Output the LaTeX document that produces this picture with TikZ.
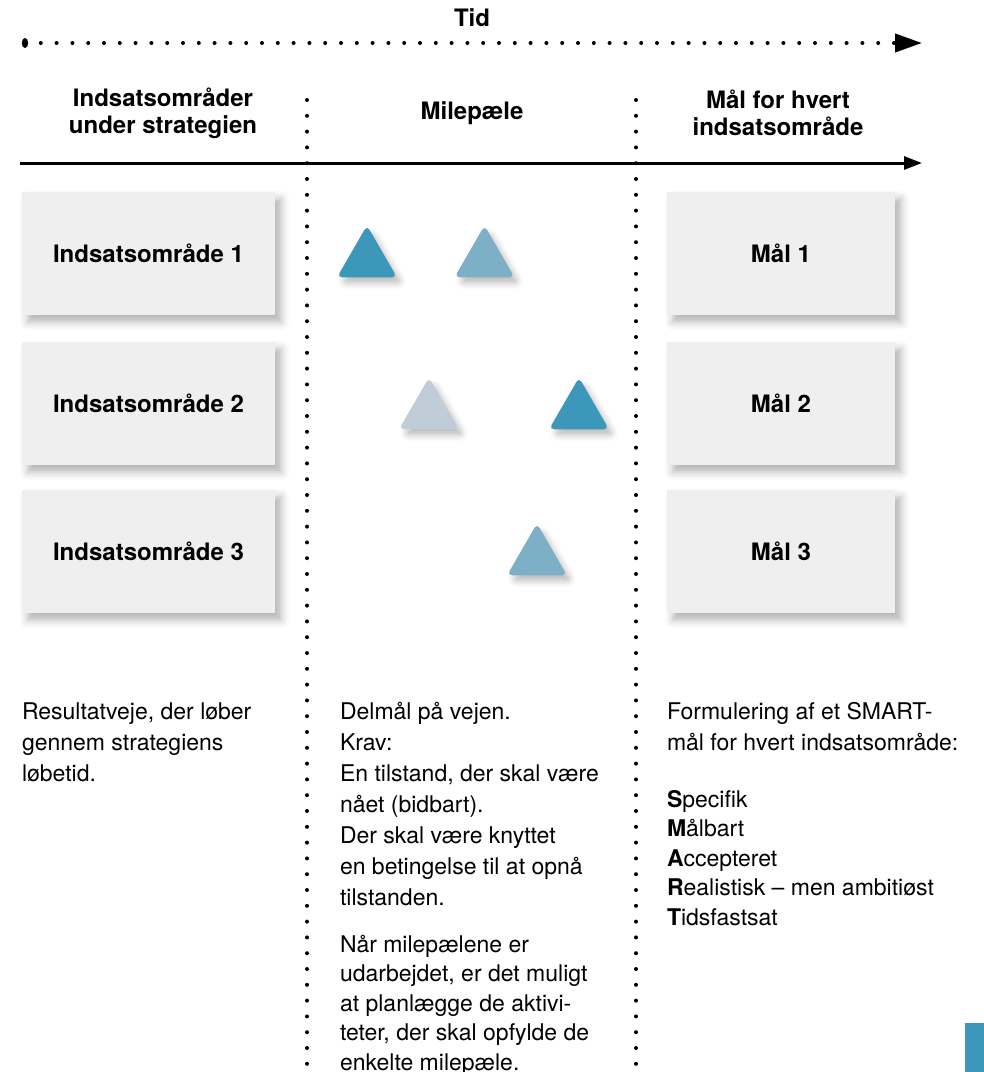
\documentclass[tikz,border=0pt]{standalone}
\usepackage{fontspec}
\setmainfont{TeX Gyre Heros}
\usetikzlibrary{arrows.meta,shapes.geometric,shadows.blur}
\definecolor{boxgray}{HTML}{EFEFEF}
\definecolor{msdark}{HTML}{3D97BA}
\definecolor{msmid}{HTML}{7DB0C7}
\definecolor{mslight}{HTML}{C1CCD9}
\begin{document}
\begin{tikzpicture}[x=0.5pt,y=-0.5pt,inner sep=0pt,outer sep=0pt,
areabox/.style={fill=boxgray,minimum width=126.5pt,minimum height=61.5pt,font=\bfseries\fontsize{12}{14}\selectfont,
  blur shadow={shadow xshift=3pt,shadow yshift=-3.5pt,shadow blur radius=4pt,shadow opacity=30}},
goalbox/.style={areabox,minimum width=114pt},
milestone/.style={regular polygon,regular polygon sides=3,minimum size=34.6pt,rounded corners=2.5pt,
  blur shadow={shadow xshift=2.5pt,shadow yshift=-3pt,shadow blur radius=3pt,shadow opacity=25}},
header/.style={align=center,font=\bfseries\fontsize{12}{13.5}\selectfont},
bodytext/.style={anchor=base west,align=left,font=\fontsize{11.5}{15.5}\selectfont},
dotline/.style={line width=2pt,line cap=round,dash pattern=on 0pt off 7.9pt}]
\useasboundingbox (0,0) rectangle (984,1072);
% tidslinje
\node[header] (tid) at (472,18) {Tid};
\node[fill,ellipse,minimum width=3.2pt,minimum height=5pt] (tidstart) at (25,43) {};
\coordinate (tidend) at (922,43);
\draw[dotline,-{Triangle[length=13.5pt,width=9pt]}] (tidstart.center) -- (tidend);
% skillelinjer
\coordinate (sep1top) at (307,100);
\coordinate (sep1bot) at (307,1080);
\coordinate (sep2top) at (636,100);
\coordinate (sep2bot) at (636,1080);
\draw[dotline] (sep1top) -- (sep1bot);
\draw[dotline] (sep2top) -- (sep2bot);
% overskrifter
\node[header] (head1) at (163,113) {Indsatsområder\\under strategien};
\node[header] (head2) at (472,113) {Milepæle};
\node[header] (head3) at (778,113) {Mål for hvert\\indsatsområde};
\coordinate (axisstart) at (20,163);
\coordinate (axisend) at (922,163);
\draw[line width=1.5pt,-{Triangle[length=9pt,width=6.5pt]}] (axisstart) -- (axisend);
% indsatsomraader og maal
\node[areabox] (area1) at (148.5,253.5) {Indsatsområde 1};
\node[areabox] (area2) at (148.5,403.5) {Indsatsområde 2};
\node[areabox] (area3) at (148.5,551.5) {Indsatsområde 3};
\node[goalbox] (goal1) at (781,253.5) {Mål 1};
\node[goalbox] (goal2) at (781,403.5) {Mål 2};
\node[goalbox] (goal3) at (781,551.5) {Mål 3};
% milepaele
\node[milestone,fill=msdark] (ms11) at (367,260) {};
\node[milestone,fill=msmid] (ms12) at (484.5,260) {};
\node[milestone,fill=mslight] (ms21) at (429,412) {};
\node[milestone,fill=msdark] (ms22) at (579,412) {};
\node[milestone,fill=msmid] (ms31) at (537,558) {};
% forklaringer (base = sidste linje)
\node[bodytext] (pathtext) at (22,781) {Resultatveje, der løber\\gennem strategiens\\løbetid.};
\node[bodytext] (mstext) at (340,905) {Delmål på vejen.\\Krav:\\En tilstand, der skal være\\nået (bidbart).\\Der skal være knyttet\\en betingelse til at opnå\\tilstanden.};
\node[bodytext,font=\fontsize{11.5}{14.75}\selectfont] (plantext) at (340,1070) {Når milepælene er\\udarbejdet, er det muligt\\at planlægge de aktivi-\\teter, der skal opfylde de\\enkelte milepæle.};
\node[bodytext] (smarttext) at (667,750) {Formulering af et SMART-\\mål for hvert indsatsområde:};
\node[bodytext,font=\fontsize{11.5}{14.75}\selectfont] (smartlist) at (667,925) {\textbf{S}pecifik\\\textbf{M}ålbart\\\textbf{A}ccepteret\\\textbf{R}ealistisk – men ambitiøst\\\textbf{T}idsfastsat};
\node[fill=msdark,minimum width=10pt,minimum height=25pt,anchor=north west] (pagetab) at (965,1023) {};
\end{tikzpicture}
\end{document}
